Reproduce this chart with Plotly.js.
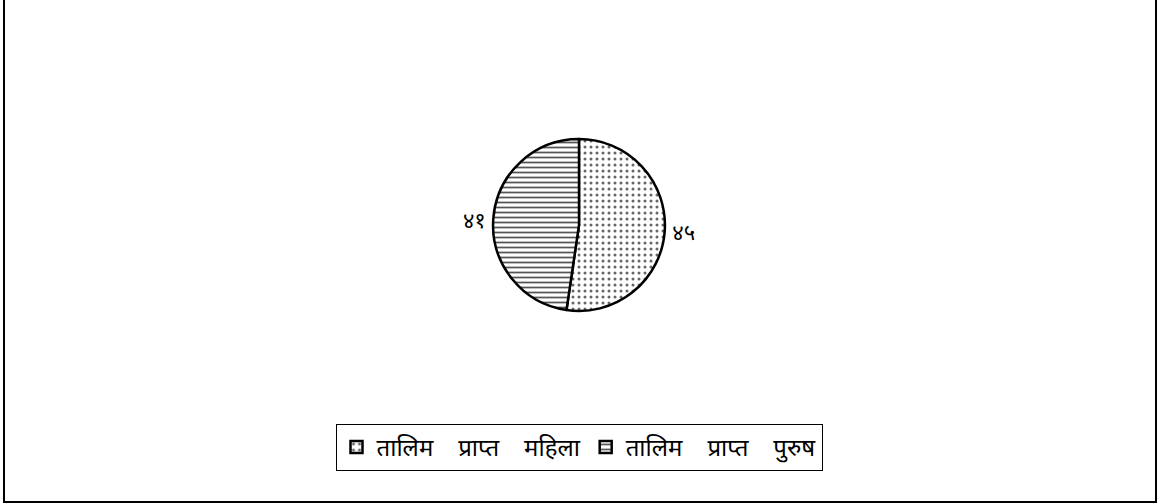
<!DOCTYPE html>
<html>
<head>
<meta charset="utf-8">
<script src="https://cdn.plot.ly/plotly-3.0.1.min.js"></script>
<style>
  body { margin: 0; background: #fff; }
  #frame { position: absolute; left: 3px; top: -4px; width: 1150px; height: 503px;
           border: 2px solid #000; pointer-events: none; }
  #plot { width: 1158px; height: 504px; }
</style>
</head>
<body>
<div id="plot"></div>
<div id="frame"></div>
<script>
// wide gaps between words, as in the original legend
const gap = '\u00a0\u00a0\u00a0\u00a0';
const labels = ['तालिम' + gap + 'प्राप्त' + gap + 'महिला', 'तालिम' + gap + 'प्राप्त' + gap + 'पुरुष'];
const values = [45, 41];
const valueText = ['४५', '४१'];
const patternShapes = ['.', '-'];

const trace = {
    type: 'pie',
    labels: labels,
    values: values,
    text: valueText,
    textinfo: 'text',
    textposition: 'outside',
    sort: false,
    direction: 'clockwise',
    rotation: 0,
    hoverinfo: 'label+value',
    domain: { x: [0.3, 0.7], y: [0.383, 0.724] },
    marker: {
        colors: ['#fff', '#fff'],
        line: { color: '#000', width: 2.5 },
        pattern: {
            shape: patternShapes,
            fgcolor: ['#666', '#555'],
            bgcolor: ['#fff', '#fff'],
            size: [6, 5],
            solidity: [0.2, 0.35]
        }
    },
    outsidetextfont: { size: 22, color: '#000' },
};

Plotly.newPlot('plot', [trace], {
    width: 1158,
    height: 504,
    margin: { l: 0, r: 0, t: 0, b: 0 },
    paper_bgcolor: '#fff',
    font: { family: '"Noto Sans", "DejaVu Sans", sans-serif', color: '#000' },
    showlegend: true,
    legend: {
        orientation: 'h',
        x: 0.5, xanchor: 'center',
        y: 0.159, yanchor: 'top',
        bordercolor: '#000', borderwidth: 1,
        font: { size: 24 },
        itemwidth: 30,
        tracegroupgap: 0,
        traceorder: 'normal'
    }
}, { displayModeBar: false });
</script>
</body>
</html>
